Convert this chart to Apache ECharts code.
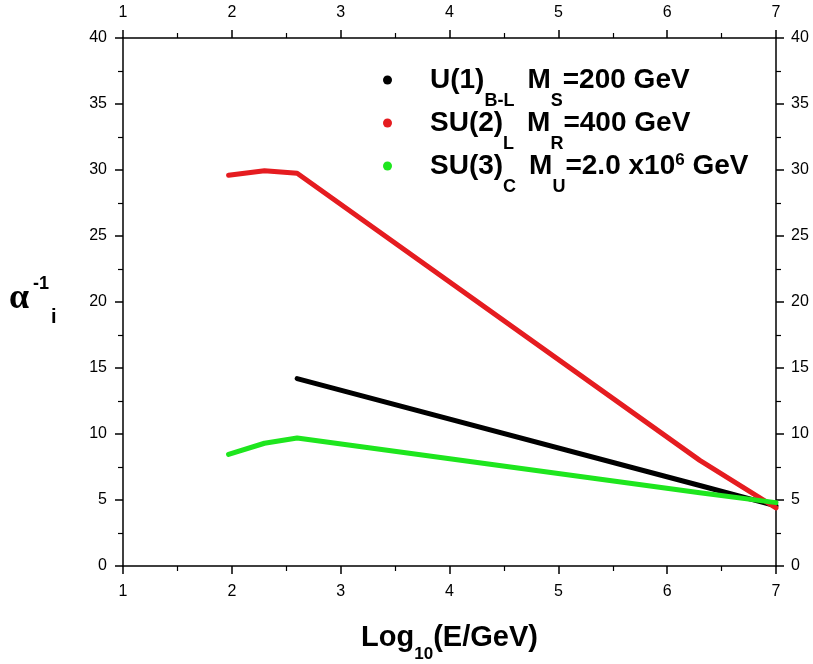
<!DOCTYPE html>
<html>
<head>
<meta charset="utf-8">
<script src="https://cdn.jsdelivr.net/npm/echarts@6/dist/echarts.min.js"></script>
<style>html,body{margin:0;padding:0;background:#fff;}#c{width:813px;height:664px;}</style>
</head>
<body>
<div id="c"></div>
<script>
const xTicks = [1, 2, 3, 4, 5, 6, 7];
const yTicks = [0, 5, 10, 15, 20, 25, 30, 35, 40];

const redX   = [1.97, 2.30, 2.60, 6.30, 7.00];
const redY   = [29.6, 29.95, 29.75, 8.0, 4.4];
const blackX = [2.60, 6.30, 7.00];
const blackY = [14.2, 6.1, 4.55];
const greenX = [1.97, 2.30, 2.60, 6.30, 7.00];
const greenY = [8.45, 9.3, 9.7, 5.55, 4.8];

const seriesNames = ['U(1)', 'SU(2)', 'SU(3)'];
const legendTexts = {
  'U(1)':  '{g|}{m|U(1)}{s|B-L}{sp|}{m|M}{s|S}{m|=200 GeV}',
  'SU(2)': '{g|}{m|SU(2)}{s|L}{sp|}{m|M}{s|R}{m|=400 GeV}',
  'SU(3)': '{g|}{m|SU(3)}{s|C}{sp|}{m|M}{s|U}{m|=2.0 x10}{p|6}{m| GeV}'
};
const colors = ['#000000', '#e51c20', '#1ee61e'];

const zip = (xs, ys) => xs.map((x, i) => [x, ys[i]]);
const FONT = 'Arial, "Liberation Sans", sans-serif';

const chart = echarts.init(document.getElementById('c'));
const lbl = (m) => ({ color: '#000', fontSize: 16, fontFamily: FONT, margin: m });
const axisCommon = {
  axisLine: { show: true, onZero: false, lineStyle: { color: '#000', width: 1.5 } },
  axisTick: { show: true, inside: false, length: 8, lineStyle: { color: '#000', width: 1.5 } },
  minorTick: { show: true, splitNumber: 2, length: 5, lineStyle: { color: '#000', width: 1.2 } },
  splitLine: { show: false }
};
const xAxisBase = Object.assign({ type: 'value', min: xTicks[0], max: xTicks[xTicks.length - 1], interval: 1 }, axisCommon);
const yAxisBase = Object.assign({ type: 'value', min: yTicks[0], max: yTicks[yTicks.length - 1], interval: 5 }, axisCommon);

const mk = (name, xs, ys, color) => ({
  name: name, type: 'line', xAxisIndex: 0, yAxisIndex: 0,
  data: zip(xs, ys), showSymbol: false, symbol: 'circle', symbolSize: 8,
  lineStyle: { color: color, width: 5, cap: 'round', join: 'round' },
  itemStyle: { color: color }, animation: false, z: 3
});

const legendRich = {
  g: { width: 33 },
  sp: { width: 13 },
  m: { fontSize: 28, fontWeight: 'bold', fontFamily: FONT, color: '#000', lineHeight: 60, verticalAlign: 'middle' },
  s: { fontSize: 18, fontWeight: 'bold', fontFamily: FONT, color: '#000', lineHeight: 60, verticalAlign: 'bottom' },
  p: { fontSize: 17, fontWeight: 'bold', fontFamily: FONT, color: '#000', lineHeight: 60, height: 48, verticalAlign: 'top' }
};
const legendTops = [61, 104, 131];
const legends = seriesNames.map((n, i) => ({
  data: [n], orient: 'vertical', left: 378, top: legendTops[i],
  icon: 'circle', itemWidth: 9, itemHeight: 9,
  formatter: k => legendTexts[k],
  textStyle: { rich: legendRich }
}));

chart.setOption({
  backgroundColor: '#fff',
  animation: false,
  grid: { left: 123, right: 37, top: 38, bottom: 98, containLabel: false, outerBoundsMode: 'none' },
  xAxis: [
    Object.assign({}, xAxisBase, {
      position: 'bottom',
      axisLabel: lbl(18),
      name: '{m|Log}{s|10}{m|(E/GeV)}',
      nameLocation: 'middle', nameGap: 57,
      nameTextStyle: {
        rich: {
          m: { fontSize: 29, fontWeight: 'bold', fontFamily: FONT, color: '#000', lineHeight: 40, verticalAlign: 'top' },
          s: { fontSize: 17, fontWeight: 'bold', fontFamily: FONT, color: '#000', lineHeight: 40, verticalAlign: 'bottom' }
        }
      }
    }),
    Object.assign({}, xAxisBase, { position: 'top', axisLabel: lbl(17) })
  ],
  yAxis: [
    Object.assign({}, yAxisBase, { position: 'left', axisLabel: lbl(16) }),
    Object.assign({}, yAxisBase, { position: 'right', axisLabel: lbl(15) })
  ],
  legend: legends,
  graphic: [
    { type: 'text', left: 9, top: 281, style: { text: 'α', fontSize: 36, fontWeight: 'bold', fontFamily: '"Liberation Serif", serif', fill: '#000' } },
    { type: 'text', left: 33, top: 275, style: { text: '-1', fontSize: 18, fontWeight: 'bold', fontFamily: FONT, fill: '#000' } },
    { type: 'text', left: 51, top: 307, style: { text: 'i', fontSize: 20, fontWeight: 'bold', fontFamily: FONT, fill: '#000' } }
  ],
  series: [
    mk(seriesNames[0], blackX, blackY, colors[0]),
    mk(seriesNames[1], redX, redY, colors[1]),
    mk(seriesNames[2], greenX, greenY, colors[2])
  ]
});
</script>
</body>
</html>
